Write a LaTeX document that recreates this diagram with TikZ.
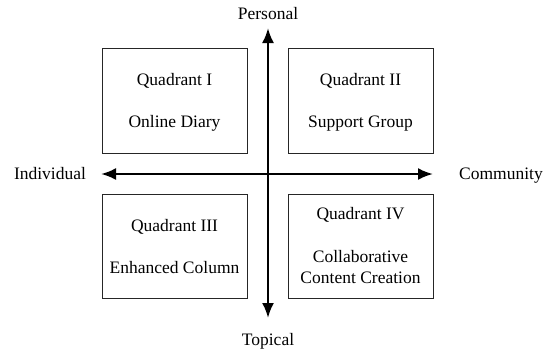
\documentclass[tikz,border=0pt]{standalone}
\usepackage{fontspec}
\setmainfont{Liberation Serif}
\usetikzlibrary{arrows.meta}
\begin{document}
\begin{tikzpicture}[x=1pt,y=-1pt,
  quad/.style={draw=black!85,line width=0.9pt},
  lbl/.style={anchor=base,inner sep=0pt,font=\fontsize{17.5}{20}\selectfont},
  axis/.style={line width=2.4pt,{Latex[length=15pt,width=12pt]}-{Latex[length=15pt,width=12pt]}}]
\useasboundingbox (0,0) rectangle (545,351);
\draw[quad] (102,48) rectangle (247,153);
\draw[quad] (288,48) rectangle (433,153);
\draw[quad] (102,194) rectangle (247,298);
\draw[quad] (288,194) rectangle (433,298);
\coordinate (top) at (268,28);
\coordinate (bot) at (268,318);
\coordinate (lft) at (101,174);
\coordinate (rgt) at (433,174);
\draw[axis] (bot) -- (top);
\draw[axis] (lft) -- (rgt);
\node[lbl] (p) at (268,19) {Personal};
\node[lbl] (t) at (268,345) {Topical};
\node[lbl] (i) at (50,179.5) {Individual};
\node[lbl] (c) at (501,179.5) {Community};
\node[lbl] (q1) at (174.5,85) {Quadrant I};
\node[lbl] (q1b) at (174.5,127) {Online Diary};
\node[lbl] (q2) at (360.5,85) {Quadrant II};
\node[lbl] (q2b) at (360.5,127) {Support Group};
\node[lbl] (q3) at (174.5,231) {Quadrant III};
\node[lbl] (q3b) at (174.5,273) {Enhanced Column};
\node[lbl] (q4) at (360.5,219) {Quadrant IV};
\node[lbl] (q4b) at (360.5,262) {Collaborative};
\node[lbl] (q4c) at (360.5,283) {Content Creation};
\end{tikzpicture}
\end{document}
